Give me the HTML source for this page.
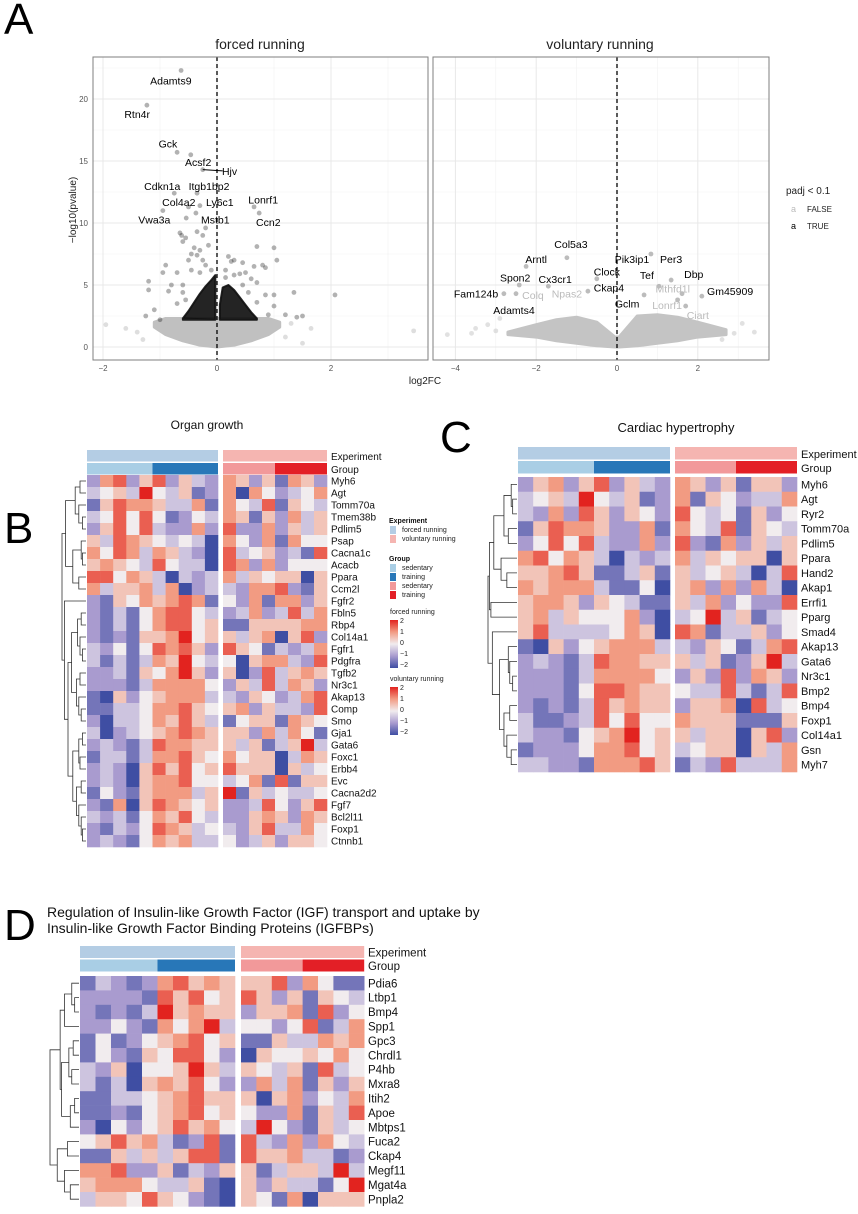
<!DOCTYPE html>
<html><head><meta charset="utf-8">
<style>
html,body{margin:0;padding:0;background:#fff;}
body{width:858px;height:1209px;overflow:hidden;font-family:"Liberation Sans",Arial,sans-serif;}
svg text{font-family:"Liberation Sans",Arial,sans-serif;}
</style></head>
<body>
<svg id="fig" width="858" height="1209" viewBox="0 0 858 1209" xmlns="http://www.w3.org/2000/svg">
<text x="4" y="34" font-size="44" fill="#000">A</text>
<text x="4" y="543" font-size="44" fill="#000">B</text>
<text x="440" y="452" font-size="44" fill="#000">C</text>
<text x="4" y="940" font-size="44" fill="#000">D</text>
<text x="260" y="49" font-size="14" text-anchor="middle" fill="#222">forced running</text>
<text x="600" y="49" font-size="14" text-anchor="middle" fill="#222">voluntary running</text>
<text x="425" y="384" font-size="10" text-anchor="middle" fill="#222">log2FC</text>
<text transform="translate(76,210) rotate(-90)" font-size="10" text-anchor="middle" fill="#222">−log10(pvalue)</text>
<g>
<text x="786" y="194" font-size="10" fill="#222">padj &lt; 0.1</text>
<text x="791" y="212" font-size="9" fill="#bbb">a</text>
<text x="807" y="212" font-size="8" fill="#222">FALSE</text>
<text x="791" y="229" font-size="9" fill="#000">a</text>
<text x="807" y="229" font-size="8" fill="#222">TRUE</text>
</g>
<text x="207" y="429" font-size="12" text-anchor="middle" fill="#111">Organ growth</text>
<text x="676" y="432" font-size="13" text-anchor="middle" fill="#111">Cardiac hypertrophy</text>
<text x="47" y="917" font-size="14" fill="#111">Regulation of Insulin-like Growth Factor (IGF) transport and uptake by</text>
<text x="47" y="933" font-size="14" fill="#111">Insulin-like Growth Factor Binding Proteins (IGFBPs)</text>
<g>
<text x="389" y="523" font-size="7" font-weight="bold" fill="#111">Experiment</text>
<rect x="390" y="526" width="6" height="8" fill="#B4CDE4"/>
<text x="402" y="532" font-size="7" fill="#222">forced running</text>
<rect x="390" y="535" width="6" height="8" fill="#F5B5B1"/>
<text x="402" y="541" font-size="7" fill="#222">voluntary running</text>
<text x="389" y="561" font-size="7" font-weight="bold" fill="#111">Group</text>
<rect x="390" y="564" width="6" height="8" fill="#A9CEE5"/>
<text x="402" y="570" font-size="7" fill="#222">sedentary</text>
<rect x="390" y="573" width="6" height="8" fill="#2877B8"/>
<text x="402" y="579" font-size="7" fill="#222">training</text>
<rect x="390" y="582" width="6" height="8" fill="#F2999A"/>
<text x="402" y="588" font-size="7" fill="#222">sedentary</text>
<rect x="390" y="591" width="6" height="8" fill="#E31F26"/>
<text x="402" y="597" font-size="7" fill="#222">training</text>
</g>
<defs><linearGradient id="cb" x1="0" y1="0" x2="0" y2="1">
<stop offset="0" stop-color="#E2231F"/><stop offset="0.25" stop-color="#F29B82"/><stop offset="0.5" stop-color="#F1ECEE"/><stop offset="0.75" stop-color="#A99BCF"/><stop offset="1" stop-color="#3F4EA3"/></linearGradient></defs>
<g id="cbars"></g>
<g id="volc"></g>
<g id="heat"></g>
</svg>
<script>
// ---------- Volcano data ----------
var forcedLabels = ["Adamts9","Rtn4r","Gck","Acsf2","Hjv","Cdkn1a","Itgb1bp2","Col4a2","Ly6c1","Lonrf1","Vwa3a","Mstb1","Ccn2"];
var forcedLabelX = [-0.81,-1.40,-0.86,-0.33,0.22,-0.96,-0.14,-0.67,0.05,0.81,-1.10,-0.03,0.90];
var forcedLabelY = [21.5,18.8,16.4,14.9,14.2,13.0,13.0,11.7,11.7,11.9,10.3,10.3,10.1];
var forcedPtX = [-0.63,-1.23,-0.70,-0.46,-0.25,-0.75,-0.35,-0.50,-0.30,0.65,-0.95,-0.54,0.74,-0.37];
var forcedPtY = [22.3,19.5,15.7,15.5,14.3,12.4,12.4,11.3,11.4,11.3,11.0,10.4,10.8,10.8];
var forcedSigX = [-0.65,-0.62,-0.55,-0.6,-0.2,-0.35,-0.25,-0.4,-0.3,-0.45,-0.5,-0.9,-0.95,-1.2,-1.2,-0.8,-0.85,-1.25,-1.0,-1.1,-0.6,0.7,1.0,1.05,0.65,0.8,0.85,0.2,0.3,0.45,0.5,0.6,0.7,0.85,1.0,1.35,2.07,1.0,1.2,1.4,1.5,0.9,-0.6,-0.7,-0.15,-0.25,0.15,0.25,0.4,-0.45,-0.35,-0.3,-0.2,-0.1,0.15,0.3,0.45,-0.55,-0.7,0.55,0.7];
var forcedSigY = [9.2,9.0,8.8,8.5,9.6,9.3,9.0,8.0,7.8,7.5,7.0,6.6,6.0,5.3,4.6,5.0,4.5,2.5,2.2,3.0,4.4,8.1,8.0,7.0,6.5,6.6,6.4,7.3,7.0,6.8,6.0,5.5,5.2,4.2,4.2,4.4,4.2,3.3,2.6,2.4,2.5,2.6,5.0,6.0,8.2,7.0,6.2,6.9,5.9,6.2,7.4,6.0,6.6,6.2,5.6,5.8,5.0,3.8,3.5,4.4,3.6];
var forcedWedgeLX = [-0.03,-0.1,-0.2,-0.3,-0.4,-0.5,-0.6];
var forcedWedgeLY = [5.8,5.4,4.9,4.3,3.6,2.9,2.3];
var forcedWedgeRX = [0.05,0.1,0.2,0.3,0.4,0.5,0.6,0.7];
var forcedWedgeRY = [3.4,4.8,5.0,4.6,4.0,3.4,2.8,2.3];
var forcedCloudX = [-1.1,-0.9,-0.6,-0.3,0,0.3,0.6,0.9,1.1];
var forcedCloudLow = [1.6,1.0,0.5,0.15,0,0.15,0.5,1.0,1.6];
var forcedCloudTop = [2.0,2.3,2.3,2.3,2.3,2.3,2.3,2.3,2.0];
var forcedGrayX = [-1.95,-1.6,3.45,1.5,1.65,-1.3,1.3,-1.4,1.2];
var forcedGrayY = [1.8,1.5,1.3,0.3,1.5,0.6,1.9,1.2,0.8];

var volLabels = ["Col5a3","Arntl","Spon2","Cx3cr1","Fam124b","Adamts4","Colq","Npas2","Clock","Ckap4","Pik3ip1","Per3","Tef","Dbp","Gm45909","Gclm","Mthfd1l","Lonrf1","Ciart"];
var volLabelX = [-1.14,-2.0,-2.52,-1.53,-3.49,-2.55,-2.08,-1.24,-0.25,-0.2,0.37,1.34,0.74,1.9,2.8,0.25,1.38,1.24,2.0];
var volLabelY = [8.3,7.1,5.6,5.5,4.3,3.0,4.2,4.3,6.1,4.8,7.1,7.1,5.8,5.9,4.5,3.5,4.7,3.4,2.6];
var volLabelSig = [1,1,1,1,1,1,0,0,1,1,1,1,1,1,1,1,0,0,0];
var volPtX = [-1.24,-2.25,-2.42,-1.7,-2.8,-2.5,-0.72,-0.5,0.84,1.34,1.04,1.61,2.1,0.67,1.5,1.7];
var volPtY = [7.2,6.5,5.0,4.9,4.3,4.3,4.5,5.5,7.5,5.4,4.9,4.3,4.1,4.2,3.8,3.3];
var volCloudX = [-2.7,-2,-1.5,-1,-0.5,-0.05,0.05,0.5,1,1.5,2,2.7];
var volCloudTop = [1.2,1.8,2.2,2.4,2.0,0.8,0.8,2.5,2.6,2.4,2.0,1.4];
var volCloudLow = [1.0,0.8,0.5,0.3,0.1,0,0,0.1,0.3,0.5,0.8,1.0];
var volGrayX = [-4.2,-3.5,-3.2,-3.0,2.9,3.4,2.6,-2.9,3.1,-3.6];
var volGrayY = [1.0,1.5,1.8,1.3,1.1,1.2,0.6,2.3,1.9,1.1];

// ---------- Heatmap data (z-score levels 0..8, 4 = 0) ----------
var bGenes = ["Myh6","Agt","Tomm70a","Tmem38b","Pdlim5","Psap","Cacna1c","Acacb","Ppara","Ccm2l","Fgfr2","Fbln5","Rbp4","Col14a1","Fgfr1","Pdgfra","Tgfb2","Nr3c1","Akap13","Comp","Smo","Gja1","Gata6","Foxc1","Erbb4","Evc","Cacna2d2","Fgf7","Bcl2l11","Foxp1","Ctnnb1"];
var bValues = [
[2,6,7,2,5,7,2,5,3,2,6,5,2,5,1,6,5,2],
[3,4,5,3,8,4,3,5,1,2,6,0,6,4,2,3,4,6],
[1,5,7,6,6,5,3,3,6,1,6,4,3,7,1,5,4,3],
[3,4,7,4,7,4,1,2,4,3,6,5,1,5,2,6,3,5],
[2,5,7,4,7,3,2,2,6,2,7,2,2,6,2,5,3,5],
[5,3,7,6,5,4,3,4,3,0,6,4,2,6,1,6,4,4],
[6,4,7,6,3,6,5,3,2,0,7,3,4,5,2,3,1,7],
[5,6,5,4,3,7,4,3,3,0,7,6,2,6,2,4,4,4],
[7,7,4,6,5,3,0,3,2,3,6,3,5,4,5,5,0,5],
[6,3,5,5,6,3,6,0,2,3,3,2,6,6,7,2,1,5],
[2,1,5,4,6,5,6,7,6,1,4,2,6,1,6,6,2,5],
[2,1,3,1,4,6,7,7,4,3,2,3,6,2,3,7,3,6],
[2,1,3,1,4,6,7,7,4,5,1,1,5,5,5,5,6,6],
[2,1,2,1,5,5,6,8,4,5,5,3,5,6,0,5,7,2],
[3,2,4,1,4,7,6,7,5,2,7,5,4,1,3,2,3,6],
[3,1,3,1,3,6,5,8,4,3,4,0,5,6,6,3,2,7],
[2,2,3,1,5,4,6,8,5,2,5,0,2,7,3,5,6,5],
[2,2,2,1,3,6,6,6,6,4,2,5,3,7,3,6,5,2],
[1,0,5,2,4,5,6,6,6,3,3,2,5,4,2,3,6,7],
[1,1,3,3,4,6,6,7,5,4,5,6,2,5,3,3,2,7],
[2,0,3,3,4,6,5,7,5,3,1,4,5,5,1,6,5,4],
[3,0,2,3,4,5,6,7,6,5,5,5,2,6,3,6,4,1],
[2,3,2,1,3,7,6,6,5,5,5,3,5,1,3,5,8,3],
[1,3,3,1,3,6,6,7,5,4,6,4,5,5,0,3,6,5],
[2,3,2,0,5,7,5,7,4,5,7,5,5,5,0,5,3,4],
[2,3,2,0,5,6,6,7,4,4,3,4,6,1,7,1,5,5],
[1,4,2,1,5,6,6,6,3,5,8,1,5,3,4,3,3,4],
[2,1,6,0,5,7,6,5,4,5,2,2,3,7,4,2,5,7],
[3,2,3,1,4,6,5,7,4,3,2,2,5,6,5,2,6,5],
[2,1,3,2,4,7,6,5,3,4,3,2,5,7,3,3,6,4],
[2,3,2,1,4,6,5,6,3,3,4,2,3,5,2,5,5,4]];
var cGenes = ["Myh6","Agt","Ryr2","Tomm70a","Pdlim5","Ppara","Hand2","Akap1","Errfi1","Pparg","Smad4","Akap13","Gata6","Nr3c1","Bmp2","Bmp4","Foxp1","Col14a1","Gsn","Myh7"];
var cValues = [
[2,5,6,2,5,7,2,5,3,2,6,5,2,5,1,5,5,2],
[3,4,5,3,8,4,3,5,1,2,6,1,5,4,2,3,3,6],
[3,2,6,2,7,5,2,5,4,2,7,4,3,4,1,5,2,4],
[1,5,7,6,6,5,2,2,6,1,6,4,3,7,1,5,4,3],
[2,4,7,4,7,3,2,2,6,2,7,2,1,6,2,5,3,5],
[6,7,4,6,5,3,0,3,2,3,6,3,5,4,5,5,0,5],
[5,5,6,7,5,1,1,3,5,1,5,3,4,5,3,0,3,7],
[6,5,6,6,6,3,1,1,4,0,5,6,2,6,2,6,3,0],
[5,6,6,5,2,5,4,3,1,1,5,3,6,2,4,2,2,7],
[5,6,3,5,4,4,4,6,2,0,3,4,8,3,5,1,3,4],
[5,7,3,3,3,3,4,6,5,0,7,6,1,3,3,5,2,4],
[1,0,5,2,4,5,6,6,6,3,3,2,5,4,1,3,6,7],
[2,3,2,1,3,7,6,6,5,5,5,3,5,1,2,5,8,3],
[2,2,2,1,3,6,6,6,6,4,2,5,2,7,2,6,5,2],
[2,2,2,1,4,7,7,6,5,5,4,3,3,7,3,1,3,7],
[2,1,2,1,3,7,5,6,5,5,2,5,5,6,0,7,3,4],
[3,1,1,2,3,7,4,7,4,4,6,5,5,5,1,1,1,5],
[3,2,2,1,4,5,6,8,4,5,5,3,5,5,0,5,7,2],
[1,2,2,2,4,6,6,7,4,5,3,4,5,5,0,5,3,6],
[3,3,2,2,1,6,6,6,7,5,1,3,2,7,3,3,3,6]];
var dGenes = ["Pdia6","Ltbp1","Bmp4","Spp1","Gpc3","Chrdl1","P4hb","Mxra8","Itih2","Apoe","Mbtps1","Fuca2","Ckap4","Megf11","Mgat4a","Pnpla2"];
var dValues = [
[1,3,2,1,2,6,7,5,6,5,5,5,7,2,6,4,1,1],
[2,2,2,2,1,7,5,7,4,5,7,5,2,5,1,5,4,3],
[2,1,2,1,3,8,5,6,5,5,2,5,5,6,1,7,2,4],
[2,2,4,2,1,6,4,6,8,3,4,4,2,4,7,1,3,6],
[1,4,1,2,4,5,6,7,4,5,1,1,5,3,3,6,5,6],
[1,4,2,1,5,4,7,7,4,2,0,5,4,4,5,4,6,4],
[3,2,5,0,4,4,5,8,5,3,5,4,3,5,1,7,3,4],
[3,1,3,0,5,6,5,7,4,2,2,6,3,6,1,5,2,5],
[1,1,3,3,4,5,6,7,5,5,5,0,5,6,2,4,3,6],
[1,1,2,1,4,5,6,7,4,5,4,2,2,6,1,5,3,7],
[2,0,4,2,4,5,7,5,6,4,3,8,4,2,1,5,3,4],
[4,5,7,5,6,3,1,2,7,1,7,3,2,6,2,6,4,3],
[1,1,5,3,5,3,5,7,7,1,7,5,5,6,3,3,1,2],
[6,6,7,2,2,5,1,3,2,5,5,1,3,5,5,3,8,3],
[5,6,6,6,4,3,3,5,1,0,5,2,5,3,3,1,4,8],
[3,5,5,4,7,5,4,2,1,0,5,4,1,6,0,5,5,5]];
var colorbarTicks = ["2","1","0","\u22121","\u22122"];

var bTree = [1.0,[0.85,[0.45,[0.25,0,1],[0.3,2,[0.15,3,4]]],[0.55,[0.2,5,[0.15,6,7]],[0.3,8,9]]],[0.9,10,[0.75,[0.6,[0.35,[0.2,11,12],[0.25,13,[0.15,14,15]]],[0.4,[0.25,16,17],[0.3,18,[0.2,19,20]]]],[0.55,[0.3,[0.15,21,22],[0.25,23,24]],[0.4,[0.2,25,26],[0.3,27,[0.2,28,[0.15,29,30]]]]]]]];
var cTree = [1.0,[0.95,[0.8,[0.45,[0.2,0,[0.15,1,2]],[0.3,3,4]],[0.55,5,[0.35,6,7]]],[0.9,8,9]],[0.85,10,[0.6,[0.3,11,[0.25,12,[0.15,13,14]]],[0.45,[0.25,15,16],[0.35,17,[0.2,18,19]]]]]];
var dTree = [1.0,[0.65,[0.5,[0.25,0,[0.15,1,2]],3],[0.6,[0.35,[0.2,4,5],[0.25,6,7]],[0.3,[0.15,8,9],10]]],[0.75,[0.4,11,12],[0.5,13,[0.3,14,15]]]];

var NS = "http://www.w3.org/2000/svg";
function mk(tag, attrs, parent){var e=document.createElementNS(NS,tag);for(var k in attrs)e.setAttribute(k,attrs[k]);parent.appendChild(e);return e;}

var volc = document.getElementById('volc');
var yPx = function(v){return 347-12.4*v;};
function drawPanel(name, x0, x1, xZero, xScale, xMajor, xMinor){
  var xPx = function(v){return xZero+xScale*v;};
  var g = mk('g',{},volc);
  
  
  var r = mk('rect',{x:x0,y:57,width:x1-x0,height:303,fill:'#fff'},g);
  
  
  [2.5,7.5,12.5,17.5,22.5].forEach(function(v){var l=mk('line',{x1:x0,x2:x1,y1:yPx(v),y2:yPx(v),stroke:'#F2F2F2','stroke-width':0.6},g);
    
    });
  xMinor.forEach(function(v){var l=mk('line',{x1:xPx(v),x2:xPx(v),y1:57,y2:360,stroke:'#F2F2F2','stroke-width':0.6},g);
    
    });
  [0,5,10,15,20].forEach(function(v){var l=mk('line',{x1:x0,x2:x1,y1:yPx(v),y2:yPx(v),stroke:'#E8E8E8','stroke-width':1},g);
    
    });
  xMajor.forEach(function(v){var l=mk('line',{x1:xPx(v),x2:xPx(v),y1:57,y2:360,stroke:'#E8E8E8','stroke-width':1},g);
    
    
    var t=mk('text',{x:xPx(v),y:371,'font-size':8,'text-anchor':'middle',fill:'#555'},g);t.textContent=(v<0?'\u2212'+(-v):''+v);
    
    });
  return {g:g,xPx:xPx};
}
function cloud(g,xPx,xs,lo,hi,fill,op,sw){
  var d='M'+xs.map(function(v,i){return xPx(v)+','+yPx(hi[i]);}).join(' L');
  for(var i=xs.length-1;i>=0;i--) d+=' L'+xPx(xs[i])+','+yPx(lo[i]);
  return mk('path',{d:d+'Z',fill:fill,'fill-opacity':op,stroke:fill,'stroke-opacity':op,'stroke-width':sw,'stroke-linejoin':'round'},g);
}
function dot(g,x,y,fill,op){return mk('circle',{cx:x,cy:y,r:2.4,fill:fill,'fill-opacity':op},g);}

var F = drawPanel('forced-running',93,428,217,57,[-2,0,2],[-1,1,3]);
[0,5,10,15,20].forEach(function(v){var t=mk('text',{x:88,y:yPx(v)+3,'font-size':8,'text-anchor':'end',fill:'#555'},F.g);t.textContent=v;
  
  });
var fc=cloud(F.g,F.xPx,forcedCloudX,forcedCloudLow,forcedCloudTop,'#C0C0C0',1,3);


forcedGrayX.forEach(function(v,i){var c=dot(F.g,F.xPx(v),yPx(forcedGrayY[i]),'#BDBDBD',0.5);
  
  });
var lw=cloud(F.g,F.xPx,forcedWedgeLX.concat([-0.03]),forcedWedgeLX.map(function(){return 2.2;}).concat([2.2]),forcedWedgeLY.concat([2.2]),'#111',0.92,2);


var rw=cloud(F.g,F.xPx,[0.05].concat(forcedWedgeRX),[2.2].concat(forcedWedgeRX.map(function(){return 2.2;})),[2.2].concat(forcedWedgeRY),'#111',0.92,2);


forcedSigX.forEach(function(v,i){var c=dot(F.g,F.xPx(v),yPx(forcedSigY[i]),'#000',0.3);
  
  });
forcedPtX.forEach(function(v,i){var c=dot(F.g,F.xPx(v),yPx(forcedPtY[i]),'#AAAAAA',0.9);
  
  });
var hl=mk('line',{x1:F.xPx(-0.25),y1:yPx(14.3),x2:F.xPx(0.1),y2:yPx(14.2),stroke:'#000','stroke-width':1},F.g);


var vz=mk('line',{x1:217,x2:217,y1:57,y2:360,stroke:'#000','stroke-width':1.3,'stroke-dasharray':'4,3'},F.g);


forcedLabels.forEach(function(s,i){var t=mk('text',{x:F.xPx(forcedLabelX[i]),y:yPx(forcedLabelY[i])+4,'font-size':10.5,'text-anchor':'middle',fill:'#000'},F.g);t.textContent=s;
  
  });
var fb=mk('rect',{x:93,y:57,width:335,height:303,fill:'none',stroke:'#7f7f7f','stroke-width':1},F.g);



var V = drawPanel('voluntary-running',433,769,617,40.4,[-4,-2,0,2],[-3,-1,1,3]);
var vc=cloud(V.g,V.xPx,volCloudX,volCloudLow,volCloudTop,'#C4C4C4',1,3);


volGrayX.forEach(function(v,i){var c=dot(V.g,V.xPx(v),yPx(volGrayY[i]),'#C4C4C4',0.5);
  
  });
volPtX.forEach(function(v,i){var c=dot(V.g,V.xPx(v),yPx(volPtY[i]),'#B5B5B5',0.9);
  
  });
var vz2=mk('line',{x1:617,x2:617,y1:57,y2:360,stroke:'#000','stroke-width':1.3,'stroke-dasharray':'4,3'},V.g);


volLabels.forEach(function(s,i){var t=mk('text',{x:V.xPx(volLabelX[i]),y:yPx(volLabelY[i])+4,'font-size':10.5,'text-anchor':'middle',fill:volLabelSig[i]?'#000':'#BBBBBB'},V.g);t.textContent=s;
  
  });
var vb=mk('rect',{x:433,y:57,width:336,height:303,fill:'none',stroke:'#7f7f7f','stroke-width':1},V.g);



var heat=document.getElementById('heat');
var stops=[[63,78,163],[169,155,207],[241,236,238],[242,155,130],[226,35,31]];
function colorFor(level){var z=(level-4)/2;var t=(z+2)/4*4;var i=Math.min(3,Math.floor(t));var f=t-i;var a=stops[i],b=stops[i+1];
  return 'rgb('+a.map(function(c,k){return Math.round(c+(b[k]-c)*f);}).join(',')+')';}
function heatmap(name,genes,vals,tree,o){
  var g=mk('g',{},heat);
  
  
  var rh=o.rh;
  var colX=function(j){return j<10?o.lx+j*o.lw:o.rx+(j-10)*o.rw;};
  var colW=function(j){return j<10?o.lw:o.rw;};
  var ann=[[o.lx,10*o.lw,'#B4CDE4','#A9CEE5',5*o.lw,'#2877B8'],[o.rx,8*o.rw,'#F5B5B1','#F2999A',4*o.rw,'#E31F26']];
  ann.forEach(function(a){
    var e=mk('rect',{x:a[0],y:o.ey,width:a[1],height:o.ah,fill:a[2]},g);
    
    
    var s=mk('rect',{x:a[0],y:o.ey+o.ah+1.5,width:a[4],height:o.ah,fill:a[3]},g);
    
    
    var t=mk('rect',{x:a[0]+a[4],y:o.ey+o.ah+1.5,width:a[1]-a[4],height:o.ah,fill:a[5]},g);
    
    
  });
  var tE=mk('text',{x:o.labx,y:o.ey+o.ah-1.5,'font-size':o.fs,fill:'#111'},g);tE.textContent='Experiment';
  
  
  var tG=mk('text',{x:o.labx,y:o.ey+2*o.ah,'font-size':o.fs,fill:'#111'},g);tG.textContent='Group';
  
  
  vals.forEach(function(row,i){
    row.forEach(function(v,j){
      var c=mk('rect',{x:colX(j),y:o.top+i*rh,width:colW(j)+0.3,height:rh+0.3,fill:colorFor(v)},g);
      
      
    });
    var t=mk('text',{x:o.labx,y:o.top+i*rh+rh/2+o.fs*0.36,'font-size':o.fs,fill:'#111'},g);t.textContent=genes[i];
    
    
  });
  var edge=o.lx-1;
  function walk(n){
    if(typeof n==='number') return {x:edge,y:o.top+n*rh+rh/2};
    var a=walk(n[1]),b=walk(n[2]);var x=edge-n[0]*o.span;
    var p=mk('path',{d:'M'+a.x+','+a.y+' H'+x+' V'+b.y+' H'+b.x,fill:'none',stroke:'#333','stroke-width':0.8},g);
    
    
    return {x:x,y:(a.y+b.y)/2};
  }
  walk(tree);
}
heatmap('organ-growth-heatmap',bGenes,bValues,bTree,{lx:87,lw:13.1,rx:223,rw:13.0,top:475,rh:12.0,ey:450,ah:11.5,labx:331,fs:10,span:24});
heatmap('cardiac-hypertrophy-heatmap',cGenes,cValues,cTree,{lx:518,lw:15.2,rx:675,rw:15.25,top:477,rh:14.75,ey:447,ah:12.5,labx:801,fs:11,span:29});
heatmap('igf-heatmap',dGenes,dValues,dTree,{lx:80,lw:15.5,rx:241,rw:15.4,top:976,rh:14.4,ey:946,ah:12,labx:368,fs:11.5,span:29});

var cbg=document.getElementById('cbars');
[['forced running',614,620],['voluntary running',681,687]].forEach(function(c){
  var t=mk('text',{x:390,y:c[1],'font-size':7,fill:'#222'},cbg);t.textContent=c[0];
  
  
  var r=mk('rect',{x:390,y:c[2],width:8,height:48,fill:'url(#cb)'},cbg);
  
  
  colorbarTicks.forEach(function(s,k){var tt=mk('text',{x:400,y:c[2]+3+k*11,'font-size':7,fill:'#222'},cbg);tt.textContent=s;
    
    });
});
</script>
</body></html>
